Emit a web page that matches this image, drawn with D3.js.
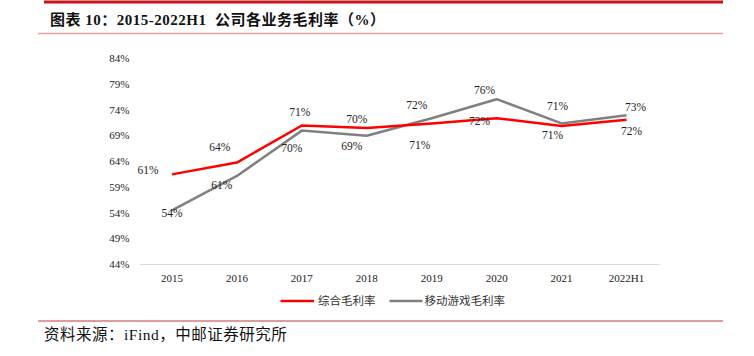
<!DOCTYPE html>
<html>
<head>
<meta charset="utf-8">
<script src="https://cdn.jsdelivr.net/npm/d3@7"></script>
<style>
  html, body { margin: 0; padding: 0; background: #ffffff; }
  svg { display: block; }
</style>
</head>
<body>
<svg id="chart" width="754" height="356"></svg>
<script>
// ---- data ----
const categories = ["2015", "2016", "2017", "2018", "2019", "2020", "2021", "2022H1"];
const overallMargin = [61.4, 63.7, 70.9, 70.4, 71.3, 72.3, 70.8, 72.0];
const mobileGameMargin = [54.4, 61.1, 69.9, 68.9, 72.3, 76.0, 71.3, 72.9];
const yTicks = [44, 49, 54, 59, 64, 69, 74, 79, 84];
const seriesNames = ["综合毛利率", "移动游戏毛利率"];
const titleText = "图表 10：2015-2022H1  公司各业务毛利率（%）";
const sourceText = "资料来源：iFind，中邮证券研究所";

// ---- layout / style (not data) ----
const W = 754, H = 356;
const plot = { left: 139.5, right: 659, top: 58, bottom: 264 };
const colors = ["#ff0000", "#808080"];
const labelOffsets = [
  [[-24, -4], [-17, -16], [-2, -13], [-10, -9], [-12, 22], [-17, 3], [-9, 9], [5, 11]],
  [[0, 3], [-15, 9], [-10, 17], [-15, 10], [-15, -13], [-12, -9], [-4, -17], [9, -8]]
];
const serif = "'Liberation Serif', 'Times New Roman', 'Noto Sans CJK SC', serif";
const cjk = "'Liberation Serif', 'Noto Sans CJK SC', serif";

const svg = d3.select("#chart");
svg.append("rect").attr("width", W).attr("height", H).attr("fill", "#ffffff");

// header rules
svg.append("line").attr("x1", 44).attr("x2", 723).attr("y1", 2).attr("y2", 2)
  .attr("stroke", "#c8151d").attr("stroke-width", 3);
svg.append("line").attr("x1", 38).attr("x2", 723).attr("y1", 33.5).attr("y2", 33.5)
  .attr("stroke", "#e8a0a0").attr("stroke-width", 1.5);
svg.append("text").attr("x", 50).attr("y", 24.5)
  .attr("font-family", cjk).attr("font-weight", "bold").attr("font-size", 15)
  .attr("letter-spacing", 0.5).attr("xml:space", "preserve").style("white-space", "pre")
  .attr("fill", "#111").text(titleText);

// footer
svg.append("line").attr("x1", 38).attr("x2", 723).attr("y1", 321).attr("y2", 321)
  .attr("stroke", "#e39a9a").attr("stroke-width", 2);
svg.append("text").attr("x", 44).attr("y", 340)
  .attr("font-family", cjk).attr("font-size", 15.5).attr("letter-spacing", 0.5)
  .attr("fill", "#111").text(sourceText);

// scales
const x = d3.scaleBand().domain(categories).range([plot.left, plot.right]);
const y = d3.scaleLinear().domain([44, 84]).range([plot.bottom, plot.top]);
const cx = c => x(c) + x.bandwidth() / 2;

// x axis
const xAxis = svg.append("g").attr("transform", `translate(0,${plot.bottom})`)
  .call(d3.axisBottom(x).tickSize(0).tickPadding(10));
xAxis.select(".domain").attr("stroke", "#d9d9d9").attr("stroke-width", 1);
xAxis.selectAll("text").attr("font-family", serif).attr("font-size", 11).attr("fill", "#222");

// y axis
const yAxis = svg.append("g").attr("transform", `translate(${plot.left - 10},0)`)
  .call(d3.axisLeft(y).tickValues(yTicks).tickSize(0).tickPadding(0).tickFormat(d => d + "%"));
yAxis.select(".domain").remove();
yAxis.selectAll("text").attr("font-family", serif).attr("font-size", 11).attr("fill", "#222");

// lines (gray under red)
const seriesData = [overallMargin, mobileGameMargin];
const line = d3.line().x((d, i) => cx(categories[i])).y(d => y(d));
[1, 0].forEach(s => {
  svg.append("path").datum(seriesData[s])
    .attr("d", line).attr("fill", "none")
    .attr("stroke", colors[s]).attr("stroke-width", 2.5)
    .attr("stroke-linejoin", "round");
});

// data labels
seriesData.forEach((vals, s) => {
  svg.append("g").selectAll("text").data(vals).join("text")
    .attr("x", (d, i) => cx(categories[i]) + labelOffsets[s][i][0])
    .attr("y", (d, i) => y(d) + labelOffsets[s][i][1])
    .attr("text-anchor", "middle").attr("dominant-baseline", "central")
    .attr("font-family", serif).attr("font-size", 11.5).attr("fill", "#222")
    .text(d => Math.round(d) + "%");
});

// legend
const legendItems = [
  { name: seriesNames[0], color: colors[0], x1: 280.5, x2: 314, tx: 318 },
  { name: seriesNames[1], color: colors[1], x1: 389.5, x2: 422.5, tx: 424.5 }
];
legendItems.forEach(it => {
  svg.append("line").attr("x1", it.x1).attr("x2", it.x2).attr("y1", 301).attr("y2", 301)
    .attr("stroke", it.color).attr("stroke-width", 2.5);
  svg.append("text").attr("x", it.tx).attr("y", 301).attr("dominant-baseline", "central")
    .attr("font-family", cjk).attr("font-size", 11.5).attr("fill", "#333").text(it.name);
});
</script>
</body>
</html>
